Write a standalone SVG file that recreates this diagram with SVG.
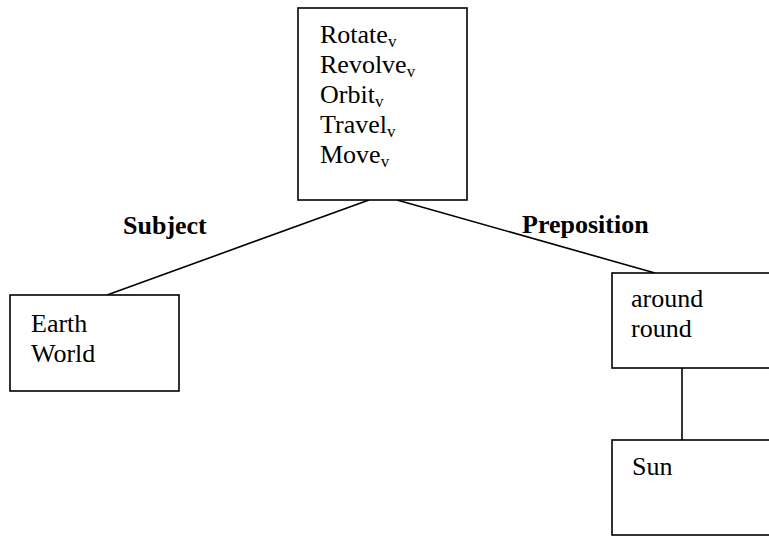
<svg xmlns="http://www.w3.org/2000/svg" width="769" height="536" viewBox="0 0 769 536">
<style>
.box{fill:#fff;stroke:#000;stroke-width:1.6}
text{font-family:"Liberation Serif","Times New Roman",serif;font-size:26px;fill:#000}
.b{font-weight:bold}
.sub{font-size:17px}
.ln{stroke:#000;stroke-width:1.6;fill:none}
</style>
<rect width="769" height="536" fill="#fff"/>
<g id="connectors">
<line class="ln" x1="369" y1="200" x2="107" y2="295"/>
<line class="ln" x1="397" y1="200" x2="655" y2="273"/>
<line class="ln" x1="682" y1="368" x2="682" y2="440"/>
</g>
<g id="verbs" font-family="Liberation Serif, serif">
<rect class="box" x="298" y="8" width="169" height="192"/>
<text x="320" y="43">Rotate<tspan class="sub" dy="4">v</tspan></text>
<text x="320" y="73">Revolve<tspan class="sub" dy="4">v</tspan></text>
<text x="320" y="103">Orbit<tspan class="sub" dy="4">v</tspan></text>
<text x="320" y="133">Travel<tspan class="sub" dy="4">v</tspan></text>
<text x="320" y="163">Move<tspan class="sub" dy="4">v</tspan></text>
</g>
<g id="subject" font-family="Liberation Serif, serif">
<rect class="box" x="10" y="295" width="169" height="96"/>
<text x="31" y="332">Earth</text>
<text x="31" y="362">World</text>
</g>
<g id="preposition" font-family="Liberation Serif, serif">
<rect class="box" x="612" y="273" width="169" height="95"/>
<text x="631" y="307">around</text>
<text x="631" y="337">round</text>
</g>
<g id="object" font-family="Liberation Serif, serif">
<rect class="box" x="612" y="440" width="169" height="95"/>
<text x="632" y="475">Sun</text>
</g>
<g id="labels">
<text class="b" x="123" y="234">Subject</text>
<text class="b" x="522" y="233">Preposition</text>
</g>
</svg>
